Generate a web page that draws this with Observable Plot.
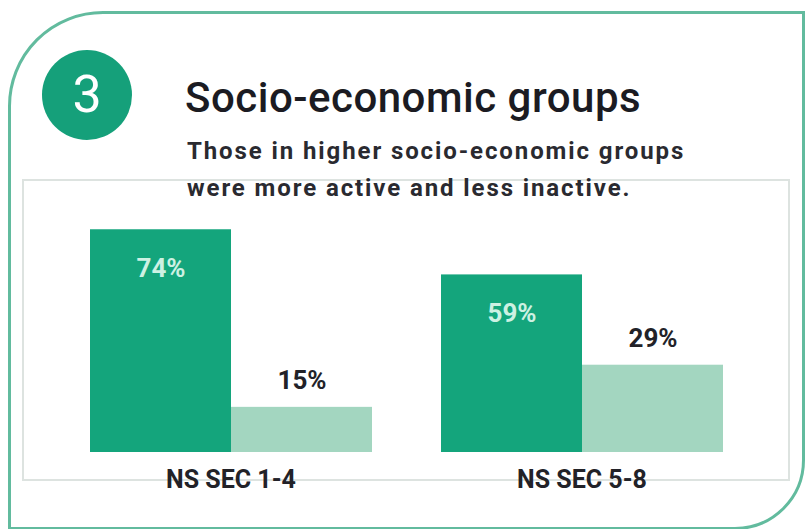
<!DOCTYPE html>
<html>
<head>
<meta charset="utf-8">
<script src="https://cdn.jsdelivr.net/npm/d3@7"></script>
<script src="https://cdn.jsdelivr.net/npm/@observablehq/plot@0.6"></script>
<style>
  html, body { margin: 0; padding: 0; background: #ffffff; }
  #wrap { position: relative; width: 805px; height: 529px; overflow: hidden; font-family: Roboto, "Noto Sans", sans-serif; }
  #frame { position: absolute; left: 8px; top: 11px; width: 791px; height: 513px;
    border: 3px solid #62bb9e; border-top-left-radius: 95px; border-bottom-right-radius: 70px; }
  #inner { position: absolute; left: 22px; top: 179px; width: 764px; height: 298px;
    border: 2px solid #dde3e0; }
  #badge { position: absolute; left: 42px; top: 50px; width: 90px; height: 90px; border-radius: 50%;
    background: #15a07a; color: #ffffff; font-size: 52px; line-height: 90px; text-align: center; font-weight: 400; }
  #title { position: absolute; left: 185px; top: 73px; font-size: 42px; font-weight: 500; color: #1b1b22; white-space: nowrap; letter-spacing: 0.5px; }
  #subtitle { position: absolute; left: 187px; top: 133px; font-size: 24px; font-weight: 700; color: #2a2a30; line-height: 37px; white-space: nowrap; letter-spacing: 1.9px; }
  #chart { position: absolute; left: 0; top: 0; }
  #chart text.cat { letter-spacing: 0.6px; }
</style>
</head>
<body>
<div id="wrap">
  <div id="frame"></div>
  <div id="inner"></div>
  <div id="chart"></div>
  <div id="badge">3</div>
  <div id="title">Socio-economic groups</div>
  <div id="subtitle">Those in higher socio-economic groups<br>were more active and less inactive.</div>
</div>
<script>
const groups = ["NS SEC 1-4", "NS SEC 5-8"];
const series = ["Active", "Inactive"];
const active = [74, 59];
const inactive = [15, 29];

const data = [];
groups.forEach((g, i) => {
  data.push({group: g, series: series[0], value: active[i]});
  data.push({group: g, series: series[1], value: inactive[i]});
});

const chart = Plot.plot({
  width: 805,
  height: 529,
  marginLeft: 88,
  marginRight: 81,
  marginTop: 151,
  marginBottom: 77,
  style: {background: "transparent", fontFamily: "Roboto, sans-serif"},
  fx: {domain: groups, paddingInner: 0.193, paddingOuter: 0, axis: null},
  x: {domain: series, padding: 0, axis: null},
  y: {domain: [0, 100], axis: null},
  color: {domain: series, range: ["#14a57c", "#a3d6c0"]},
  marks: [
    Plot.barY(data, {fx: "group", x: "series", y: "value", fill: "series"}),
    Plot.text(data.filter(d => d.series === "Active"), {
      fx: "group", x: "series", y: "value", text: d => d.value + "%",
      dy: 39, fill: "#cdf1e3", fontSize: 26, fontWeight: 700, textAnchor: "middle", lineAnchor: "middle"
    }),
    Plot.text(data.filter(d => d.series === "Inactive"), {
      fx: "group", x: "series", y: "value", text: d => d.value + "%",
      dy: -27, fill: "#222228", fontSize: 26, fontWeight: 700, textAnchor: "middle", lineAnchor: "middle"
    }),
    Plot.text(groups, {
      fx: d => d, frameAnchor: "bottom", text: d => d, lineAnchor: "middle",
      dy: 27, fill: "#222228", fontSize: 25, fontWeight: 700, className: "cat"
    })
  ]
});
document.getElementById("chart").appendChild(chart);
</script>
</body>
</html>
